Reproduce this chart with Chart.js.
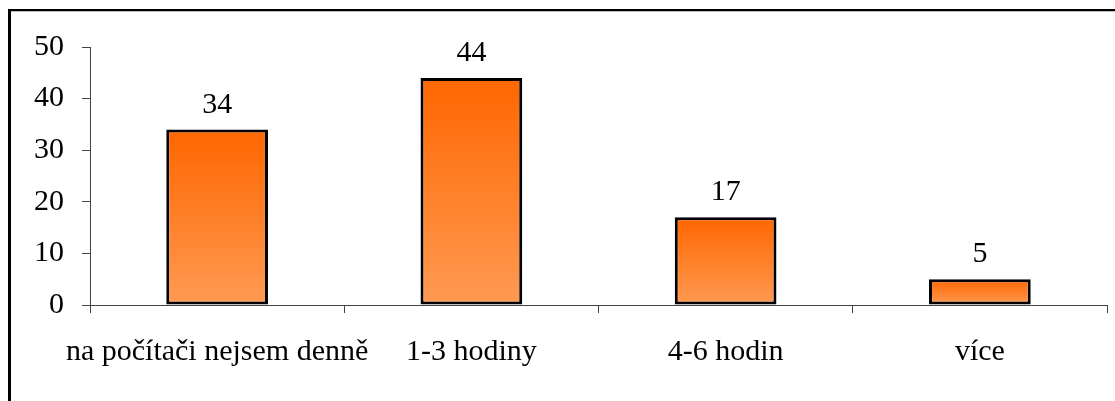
<!DOCTYPE html>
<html>
<head>
<meta charset="utf-8">
<script src="https://cdn.jsdelivr.net/npm/chart.js@4/dist/chart.umd.min.js"></script>
<style>
  html, body { margin: 0; padding: 0; background: #fff; }
  #wrap { position: relative; width: 1115px; height: 401px; }
  #frame { position: absolute; left: 8px; top: 9px; width: 1107px; height: 392px;
           border-top: 2px solid #000; border-left: 3px solid #000; box-sizing: border-box;
           box-shadow: 0 1px 0 #bbb inset; pointer-events: none; }
  canvas { position: absolute; left: 0; top: 0; }
</style>
</head>
<body>
<div id="wrap">
  <canvas id="c" width="1115" height="401"></canvas>
  <div id="frame"></div>
</div>
<script>
const categories = ['na počítači nejsem denně', '1-3 hodiny', '4-6 hodin', 'více'];
const values = [34, 44, 17, 5];
const yTicks = [0, 10, 20, 30, 40, 50];

const FONT = { family: '"Liberation Serif", "Times New Roman", serif', size: 30 };

// vertical orange gradient spanning each bar from its top down to zero
function barGradient(ctx) {
  const chart = ctx.chart;
  const ys = chart.scales.y;
  if (!chart.chartArea || !ys || !ctx.parsed) return '#ff7a2a';
  const top = ys.getPixelForValue(ctx.parsed.y);
  const bottom = ys.getPixelForValue(0);
  if (!isFinite(top) || !isFinite(bottom)) return '#ff7a2a';
  const g = chart.ctx.createLinearGradient(0, top, 0, bottom);
  g.addColorStop(0, '#ff6600');
  g.addColorStop(1, '#ff9a52');
  return g;
}

const valueLabels = {
  id: 'valueLabels',
  afterDatasetsDraw(chart) {
    const c = chart.ctx;
    const meta = chart.getDatasetMeta(0);
    c.save();
    c.font = FONT.size + 'px ' + FONT.family;
    c.fillStyle = '#000';
    c.textAlign = 'center';
    c.textBaseline = 'alphabetic';
    meta.data.forEach((bar, i) => {
      c.fillText(String(values[i]), bar.x, bar.y - 17);
    });
    c.restore();
  }
};

new Chart(document.getElementById('c'), {
  type: 'bar',
  data: {
    labels: categories,
    datasets: [{
      data: values,
      backgroundColor: barGradient,
      borderColor: '#000',
      borderWidth: 3,
      borderSkipped: false,
      barPercentage: 0.4,
      categoryPercentage: 1
    }]
  },
  options: {
    responsive: false,
    animation: false,
    devicePixelRatio: 1,
    layout: { padding: { top: 47, right: 8, left: 0, bottom: 0 } },
    plugins: { legend: { display: false }, tooltip: { enabled: false } },
    scales: {
      x: {
        offset: true,
        grid: { display: true, offset: true, drawOnChartArea: false, drawTicks: true, tickLength: 8, color: '#444' },
        border: { display: true, color: '#444', width: 1 },
        ticks: { color: '#000', font: FONT, padding: 21, maxRotation: 0, autoSkip: false },
        afterFit(s) { s.height = 96; }
      },
      y: {
        min: 0, max: 50,
        afterBuildTicks(s) { s.ticks = yTicks.map(v => ({ value: v })); },
        grid: { display: true, drawOnChartArea: false, drawTicks: true, tickLength: 8, color: '#444' },
        border: { display: true, color: '#444', width: 1 },
        ticks: { color: '#000', font: FONT, padding: 18 },
        afterFit(s) { s.width = 90; }
      }
    }
  },
  plugins: [valueLabels]
});
</script>
</body>
</html>
